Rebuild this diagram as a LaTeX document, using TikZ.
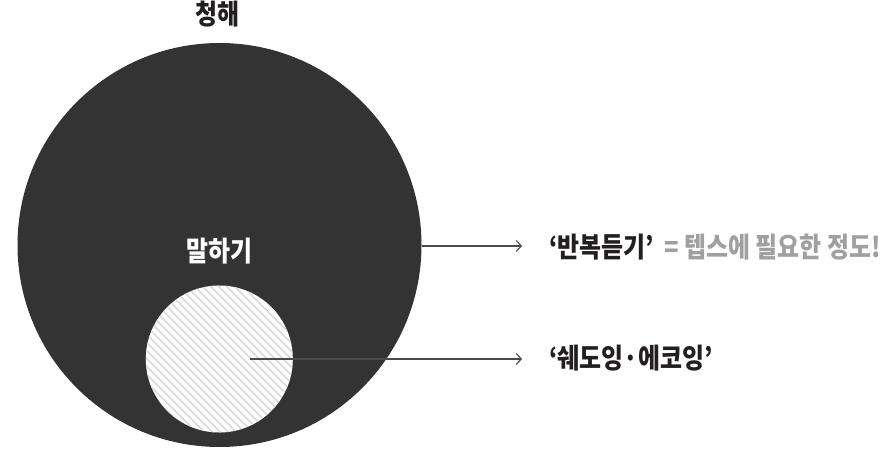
\documentclass[tikz,border=0pt]{standalone}
\usepackage{fontspec}
\usetikzlibrary{arrows.meta}
\newfontfamily\kr{Noto Sans CJK KR}[FakeStretch=0.86]
\definecolor{dark}{HTML}{333333}
\definecolor{txt}{HTML}{231F20}
\definecolor{grey}{HTML}{A0A0A0}
\definecolor{hatch}{HTML}{DADADA}
\definecolor{arr}{HTML}{4A4A4A}
\tikzset{
  lbl/.style={font=\kr\bfseries\fontsize{27.8}{30}\selectfont, inner sep=0pt},
  conn/.style={draw=arr, line width=1.1pt, -{Straight Barb[length=5pt,width=11pt,line width=1.1pt]}},
}
\begin{document}
\begin{tikzpicture}[x=1pt,y=-1pt]
\useasboundingbox (0,0) rectangle (881,449);
\fill[white] (0,0) rectangle (881,449);
% big circle
\node[circle, fill=dark, minimum size=404pt, inner sep=0pt] (big) at (219.5,245) {};
% small circle with hatching
\node[circle, fill=white, minimum size=147pt, inner sep=0pt] (small) at (219.3,359) {};
\begin{scope}
  \clip (219.3,359) circle[radius=73.5];
  \foreach \i in {-320,-312,...,320}
    \draw[hatch, line width=1.6pt] (219.3+\i-160,359-160) -- (219.3+\i+160,359+160);
\end{scope}
% texts
\node[lbl, text=txt] (title) at (217.5,14) {청해};
\node[lbl, text=white] (speak) at (219.5,251) {말하기};
\node[lbl, text=txt, anchor=west] (rep) at (549,247) {‘반복듣기’};
\node[lbl, text=grey, anchor=west] (repnote) at ([xshift=10pt]rep.east) {= 텝스에 필요한 정도!};
\node[lbl, text=txt, anchor=west] (shad) at (549,358) {‘쉐도잉·에코잉’};
% connectors
\coordinate (s1) at (250,359);
\coordinate (e1) at (522,246);
\coordinate (e2) at (522,359);
\draw[conn] (big.east |- e1) -- (e1);
\draw[conn] (s1) -- (e2);
\end{tikzpicture}
\end{document}
